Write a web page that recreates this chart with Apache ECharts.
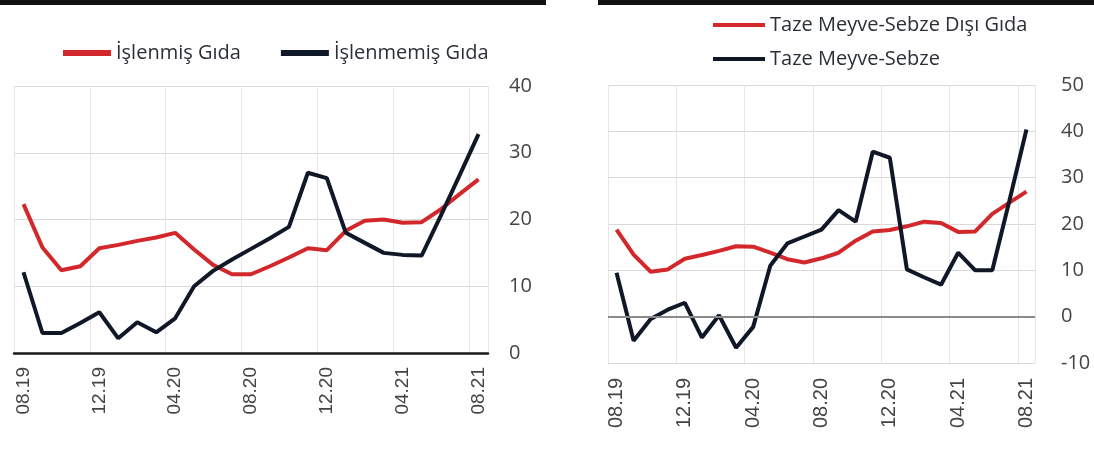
<!DOCTYPE html>
<html>
<head>
<meta charset="utf-8">
<script src="https://cdn.jsdelivr.net/npm/echarts@6/dist/echarts.min.js"></script>
<style>
  html, body { margin: 0; padding: 0; background: #ffffff; }
  #chart { width: 1094px; height: 449px; }
</style>
</head>
<body>
<div id="chart"></div>
<script>
// Months 08.19 .. 08.21
const categories = ['08.19','09.19','10.19','11.19','12.19','01.20','02.20','03.20','04.20','05.20','06.20','07.20','08.20','09.20','10.20','11.20','12.20','01.21','02.21','03.21','04.21','05.21','06.21','07.21','08.21'];

// Left panel
const islenmisGida   = [22.3, 15.8, 12.4, 13.0, 15.7, 16.2, 16.8, 17.3, 18.0, 15.5, 13.2, 11.8, 11.8, 13.0, 14.3, 15.7, 15.4, 18.3, 19.8, 20.0, 19.5, 19.6, 21.5, 23.8, 26.0];
const islenmemisGida = [12.1, 3.0, 3.0, 4.5, 6.1, 2.2, 4.6, 3.1, 5.2, 10.0, 12.3, 14.0, 15.6, 17.2, 18.9, 27.0, 26.2, 18.0, 16.5, 15.0, 14.7, 14.6, 20.5, 26.6, 32.8];

// Right panel
const tazeDisiGida   = [18.8, 13.4, 9.7, 10.2, 12.5, 13.3, 14.2, 15.2, 15.1, 13.8, 12.4, 11.7, 12.6, 13.8, 16.4, 18.4, 18.7, 19.5, 20.5, 20.2, 18.3, 18.4, 22.2, 24.6, 27.0];
const tazeMeyveSebze = [9.5, -5.2, -0.5, 1.5, 3.0, -4.5, 0.3, -6.7, -2.2, 11.0, 15.8, 17.3, 18.8, 23.0, 20.5, 35.6, 34.3, 10.2, 8.5, 6.9, 13.8, 10.0, 10.0, 25.0, 40.4];

const leftTicks  = { min: 0, max: 40, interval: 10 };
const rightTicks = { min: -10, max: 50, interval: 10 };

const RED = '#d3282b';
const DARK = '#101828';

const chart = echarts.init(document.getElementById('chart'), null, { renderer: 'canvas' });

function xAxisFor(gridIndex, showLine, fontSize, margin) {
  return {
    type: 'category',
    gridIndex: gridIndex,
    data: categories,
    boundaryGap: true,
    axisLine: { show: showLine, onZero: false, lineStyle: { color: '#1a1a1a', width: 2.5 } },
    axisTick: { show: false },
    axisLabel: { interval: 3, rotate: 90, margin: margin, fontSize: fontSize, fontFamily: 'Liberation Sans', color: '#444' },
    splitLine: { show: true, interval: 3, lineStyle: { color: '#e6e6e6', width: 1 } }
  };
}

function yAxisFor(gridIndex, ticks, margin) {
  return {
    type: 'value',
    gridIndex: gridIndex,
    position: 'right',
    min: ticks.min, max: ticks.max, interval: ticks.interval,
    axisLine: { show: false },
    axisTick: { show: false },
    axisLabel: { margin: margin, fontSize: 20, fontFamily: 'Open Sans', color: '#444' },
    splitLine: { show: true, lineStyle: { color: '#d9d9d9', width: 1 } }
  };
}

const legendText = { fontFamily: 'Open Sans', fontSize: 20, color: '#2a2f38' };

const option = {
  animation: false,
  backgroundColor: '#ffffff',
  graphic: [
    { type: 'rect', shape: { x: 0, y: 0, width: 546, height: 5 }, style: { fill: '#111111' } },
    { type: 'rect', shape: { x: 598, y: 0, width: 496, height: 5 }, style: { fill: '#111111' } }
  ],
  legend: [
    {
      data: ['İşlenmiş Gıda', 'İşlenmemiş Gıda'],
      left: 58, top: 38,
      icon: 'rect', itemWidth: 48, itemHeight: 6, itemGap: 40,
      textStyle: legendText
    },
    {
      data: ['Taze Meyve-Sebze Dışı Gıda', 'Taze Meyve-Sebze'],
      orient: 'vertical',
      left: 708, top: 10,
      icon: 'rect', itemWidth: 52, itemHeight: 4, itemGap: 14,
      textStyle: legendText
    }
  ],
  grid: [
    { left: 14, top: 86, width: 474, height: 267 },
    { left: 608, top: 85, width: 427, height: 278 }
  ],
  xAxis: [xAxisFor(0, true, 19, 14), xAxisFor(1, false, 20, 15)],
  yAxis: [yAxisFor(0, leftTicks, 21), yAxisFor(1, rightTicks, 26)],
  series: [
    { name: 'İşlenmiş Gıda', type: 'line', xAxisIndex: 0, yAxisIndex: 0, data: islenmisGida,
      symbol: 'none', color: RED, lineStyle: { width: 4, color: RED }, z: 3 },
    { name: 'İşlenmemiş Gıda', type: 'line', xAxisIndex: 0, yAxisIndex: 0, data: islenmemisGida,
      symbol: 'none', color: DARK, lineStyle: { width: 4, color: DARK }, z: 3 },
    { name: 'Taze Meyve-Sebze Dışı Gıda', type: 'line', xAxisIndex: 1, yAxisIndex: 1, data: tazeDisiGida,
      symbol: 'none', color: RED, lineStyle: { width: 4, color: RED }, z: 2,
      markLine: { silent: true, symbol: 'none', label: { show: false },
        lineStyle: { color: '#8a8a8a', width: 2, type: 'solid' }, data: [{ yAxis: 0 }] } },
    { name: 'Taze Meyve-Sebze', type: 'line', xAxisIndex: 1, yAxisIndex: 1, data: tazeMeyveSebze,
      symbol: 'none', color: DARK, lineStyle: { width: 4, color: DARK }, z: 4 }
  ]
};

chart.setOption(option);
</script>
</body>
</html>
